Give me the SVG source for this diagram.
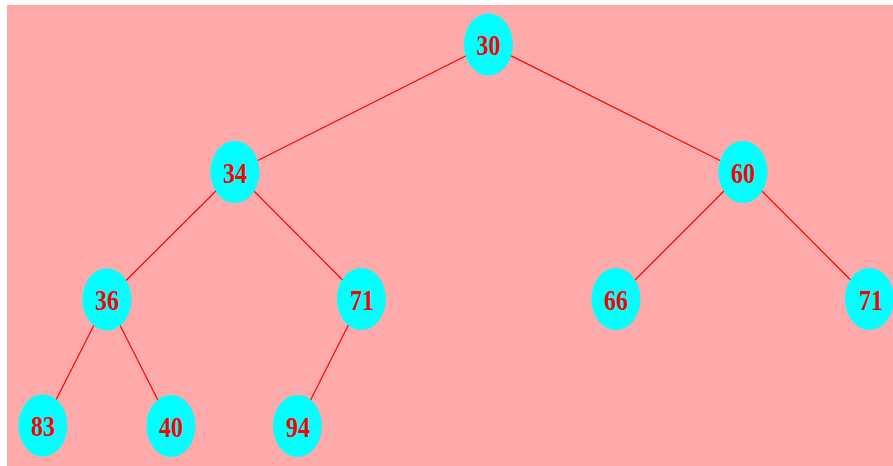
<svg xmlns="http://www.w3.org/2000/svg" width="893" height="466" viewBox="0 0 893 466">
<style>
.bg{fill:#FFAAAA}
.edge{stroke:#FF0000;stroke-width:1.2;fill:none}
.node ellipse{fill:#00FFFF}
.node text{fill:#FF0000;font-family:"Liberation Serif","Times New Roman",serif;font-weight:bold;font-size:30px;text-anchor:middle}
</style>
<rect width="893" height="466" fill="#FFFFFF"/>
<rect class="bg" x="7" y="5" width="886" height="461"/>
<g id="connectors">
<line class="edge" x1="488.5" y1="44.5" x2="235" y2="172"/>
<line class="edge" x1="488.5" y1="44.5" x2="743" y2="172"/>
<line class="edge" x1="235" y1="172" x2="107" y2="299.5"/>
<line class="edge" x1="235" y1="172" x2="361.5" y2="299"/>
<line class="edge" x1="743" y1="172" x2="616" y2="299"/>
<line class="edge" x1="743" y1="172" x2="869.5" y2="299"/>
<line class="edge" x1="107" y1="299.5" x2="43" y2="425.5"/>
<line class="edge" x1="107" y1="299.5" x2="171" y2="426"/>
<line class="edge" x1="361.5" y1="299" x2="297.5" y2="426"/>
</g>
<g id="n30" class="node"><ellipse cx="488.5" cy="44.5" rx="24.5" ry="31"/><text x="488.5" y="55" textLength="24" lengthAdjust="spacingAndGlyphs">30</text></g>
<g id="n34" class="node"><ellipse cx="235" cy="172" rx="24.5" ry="31"/><text x="235" y="182.5" textLength="24" lengthAdjust="spacingAndGlyphs">34</text></g>
<g id="n60" class="node"><ellipse cx="743" cy="172" rx="24.5" ry="31"/><text x="743" y="182.5" textLength="24" lengthAdjust="spacingAndGlyphs">60</text></g>
<g id="n36" class="node"><ellipse cx="107" cy="299.5" rx="24.5" ry="31"/><text x="107" y="310" textLength="24" lengthAdjust="spacingAndGlyphs">36</text></g>
<g id="n71a" class="node"><ellipse cx="361.5" cy="299" rx="24.5" ry="31"/><text x="362" y="309.5" textLength="24" lengthAdjust="spacingAndGlyphs">71</text></g>
<g id="n66" class="node"><ellipse cx="616" cy="299" rx="24.5" ry="31"/><text x="616" y="309.5" textLength="24" lengthAdjust="spacingAndGlyphs">66</text></g>
<g id="n71b" class="node"><ellipse cx="869.5" cy="299" rx="24.5" ry="31"/><text x="871" y="309.5" textLength="24" lengthAdjust="spacingAndGlyphs">71</text></g>
<g id="n83" class="node"><ellipse cx="43" cy="425.5" rx="24.5" ry="31"/><text x="43" y="436" textLength="24" lengthAdjust="spacingAndGlyphs">83</text></g>
<g id="n40" class="node"><ellipse cx="171" cy="426" rx="24.5" ry="31"/><text x="171" y="436.5" textLength="24" lengthAdjust="spacingAndGlyphs">40</text></g>
<g id="n94" class="node"><ellipse cx="297.5" cy="426" rx="24.5" ry="31"/><text x="298" y="436.5" textLength="24" lengthAdjust="spacingAndGlyphs">94</text></g>
</svg>
